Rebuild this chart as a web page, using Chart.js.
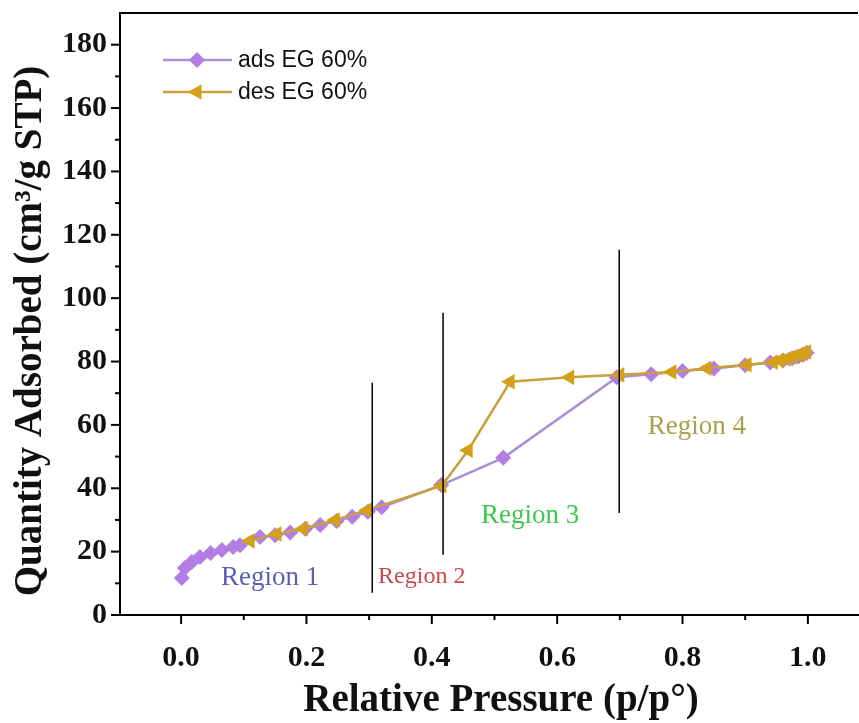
<!DOCTYPE html>
<html>
<head>
<meta charset="utf-8">
<script src="https://cdn.jsdelivr.net/npm/chart.js@4.4.0/dist/chart.umd.min.js"></script>
<style>
  html, body { margin: 0; padding: 0; background: #fff; overflow: hidden; }
  canvas { display: block; }
</style>
</head>
<body>
<canvas id="isotherm" width="859" height="723"></canvas>
<script>
// adsorption branch (purple diamonds)
const adsX = [0.001, 0.006, 0.017, 0.03, 0.047, 0.065, 0.083, 0.094, 0.126, 0.15, 0.174, 0.198, 0.222, 0.248, 0.273, 0.298, 0.32, 0.415, 0.514, 0.695, 0.75, 0.8, 0.85, 0.9, 0.94, 0.96, 0.975, 0.985, 0.993, 0.998];
const adsY = [11.7, 14.8, 16.7, 18.3, 19.6, 20.5, 21.5, 22.0, 24.6, 25.2, 26.0, 27.2, 28.4, 29.7, 31.0, 32.6, 34.0, 41.0, 49.6, 75.0, 76.0, 77.0, 77.8, 78.8, 79.7, 80.3, 81.0, 81.6, 82.2, 82.8];

// desorption branch (gold triangles)
const desX = [0.998, 0.992, 0.985, 0.975, 0.965, 0.955, 0.945, 0.903, 0.839, 0.783, 0.70, 0.62, 0.525, 0.458, 0.416, 0.297, 0.246, 0.195, 0.153, 0.11];
const desY = [83.0, 82.6, 82.1, 81.4, 80.8, 80.3, 79.8, 79.0, 77.9, 76.7, 75.8, 75.0, 73.6, 52.0, 40.8, 33.1, 30.0, 27.2, 25.6, 23.4];

// region divider lines
const dividerX = [0.305, 0.418, 0.699];
const dividerTop = [73.3, 95.4, 115.3];
const dividerBottom = [7, 19, 32.2];

// region labels (data coords)
const regionText = ["Region 1", "Region 2", "Region 3", "Region 4"];
const regionX = [0.142, 0.384, 0.557, 0.823];
const regionY = [11.7, 12.0, 31.3, 59.4];
const regionColor = ["#5c5cb4", "#c9484c", "#3cc84c", "#a8a04a"];

const xMajor = [0, 0.2, 0.4, 0.6, 0.8, 1.0];
const xMinor = [0.1, 0.3, 0.5, 0.7, 0.9];
const yMajor = [0, 20, 40, 60, 80, 100, 120, 140, 160, 180];
const yMinor = [10, 30, 50, 70, 90, 110, 130, 150, 170];

const seriesNames = ["ads EG 60%", "des EG 60%"];
const xTitle = "Relative Pressure (p/p°)";
const yTitle = "Quantity Adsorbed (cm³/g STP)";
const purple = "#b27ee6";
const purpleLine = "#a98fd6";
const gold = "#d4a017";
const goldLine = "#c6a23c";

const pts = (xs, ys) => xs.map((x, i) => ({ x: x, y: ys[i] }));

let datasets = [
  {
    label: seriesNames[0],
    data: pts(adsX, adsY),
    showLine: true,
    borderColor: purpleLine,
    borderWidth: 2.5,
    pointStyle: "rectRot",
    pointRadius: 8,
    pointBackgroundColor: purple,
    pointBorderColor: purple,
    pointBorderWidth: 0,
    order: 2,
  },
  {
    label: seriesNames[1],
    data: pts(desX, desY),
    showLine: true,
    borderColor: goldLine,
    borderWidth: 2.5,
    pointStyle: "triangle",
    pointRotation: -90,
    pointRadius: 9,
    pointBackgroundColor: gold,
    pointBorderColor: gold,
    pointBorderWidth: 0,
    order: 1,
  },
];

// the three vertical dividers
dividerX.forEach((x, i) => {
  datasets.push({
    label: "divider" + i,
    data: [{ x: x, y: dividerBottom[i] }, { x: x, y: dividerTop[i] }],
    showLine: true,
    borderColor: "#000",
    borderWidth: 1.5,
    pointRadius: 0,
    order: 0,
  });
});

// ticks, top frame, region texts, axis titles and legend
const decorations = {
  id: "decorations",
  afterDatasetsDraw(chart) {
    const ctx = chart.ctx;
    const xs = chart.scales.x;
    const ys = chart.scales.y;
    const area = chart.chartArea;
    ctx.save();
    ctx.strokeStyle = "#000";
    ctx.lineWidth = 2;

    // top frame line
    ctx.beginPath();
    ctx.moveTo(area.left - 1, area.top);
    ctx.lineTo(area.right, area.top);
    ctx.stroke();

    const tickX = (v, len) => {
      const p = xs.getPixelForValue(v);
      ctx.beginPath();
      ctx.moveTo(p, area.bottom);
      ctx.lineTo(p, area.bottom + len);
      ctx.stroke();
    };
    const tickY = (v, len) => {
      const p = ys.getPixelForValue(v);
      ctx.beginPath();
      ctx.moveTo(area.left, p);
      ctx.lineTo(area.left - len, p);
      ctx.stroke();
    };
    xMajor.forEach((v) => tickX(v, 9));
    xMinor.forEach((v) => tickX(v, 5));
    yMajor.forEach((v) => tickY(v, 9));
    yMinor.forEach((v) => tickY(v, 5));

    // axis titles
    ctx.textAlign = "center";
    ctx.textBaseline = "middle";
    ctx.fillStyle = "#111";
    ctx.font = "bold 39px 'Liberation Serif', serif";
    ctx.fillText(xTitle, 501, 701);
    ctx.save();
    ctx.translate(31, 331);
    ctx.rotate(-Math.PI / 2);
    ctx.fillText(yTitle, 0, 0);
    ctx.restore();

    // region labels
    regionText.forEach((t, i) => {
      ctx.font = (i === 1 ? "24px" : "27px") + " 'Liberation Serif', serif";
      ctx.fillStyle = regionColor[i];
      ctx.fillText(t, xs.getPixelForValue(regionX[i]), ys.getPixelForValue(regionY[i]));
    });

    // legend
    const rows = [60, 92];
    const styles = [
      { line: purpleLine, fill: purple, style: "rectRot", r: 8, rot: 0 },
      { line: goldLine, fill: gold, style: "triangle", r: 9, rot: -90 },
    ];
    ctx.textAlign = "left";
    ctx.font = "23px 'Liberation Sans', Arial, sans-serif";
    rows.forEach((y, i) => {
      const s = styles[i];
      ctx.strokeStyle = s.line;
      ctx.lineWidth = 2.5;
      ctx.beginPath();
      ctx.moveTo(163, y);
      ctx.lineTo(232, y);
      ctx.stroke();
      ctx.fillStyle = s.fill;
      ctx.strokeStyle = s.fill;
      Chart.helpers.drawPoint(ctx, { pointStyle: s.style, radius: s.r, rotation: s.rot, borderWidth: 0 }, 197, y);
      ctx.fillStyle = "#111";
      ctx.fillText(seriesNames[i], 238, y + 1);
    });
    ctx.restore();
  },
};

new Chart(document.getElementById("isotherm"), {
  type: "scatter",
  data: { datasets: datasets },
  options: {
    responsive: false,
    animation: false,
    layout: { autoPadding: false, padding: { top: 13, right: 1, left: 0, bottom: 0 } },
    plugins: {
      legend: { display: false },
      tooltip: { enabled: false },
    },
    scales: {
      x: {
        type: "linear",
        min: -0.0975,
        max: 1.08,
        grid: { display: false },
        border: { display: true, color: "#000", width: 2 },
        afterBuildTicks: (scale) => {
          scale.ticks = xMajor.map((v) => ({ value: v }));
        },
        afterFit: (scale) => {
          scale.height = 108;
          scale.paddingLeft = 0;
          scale.paddingRight = 0;
        },
        ticks: {
          padding: 17,
          color: "#111",
          font: { family: "'Liberation Serif', serif", size: 30, weight: "bold" },
          callback: (v) => v.toFixed(1),
        },
      },
      y: {
        type: "linear",
        min: 0,
        max: 190,
        grid: { display: false },
        border: { display: true, color: "#000", width: 2 },
        afterBuildTicks: (scale) => {
          scale.ticks = yMajor.map((v) => ({ value: v }));
        },
        afterFit: (scale) => {
          scale.width = 120;
          scale.paddingTop = 0;
          scale.paddingBottom = 0;
        },
        ticks: {
          padding: 5,
          color: "#111",
          font: { family: "'Liberation Serif', serif", size: 30, weight: "bold" },
        },
      },
    },
  },
  plugins: [decorations],
});
</script>
</body>
</html>
